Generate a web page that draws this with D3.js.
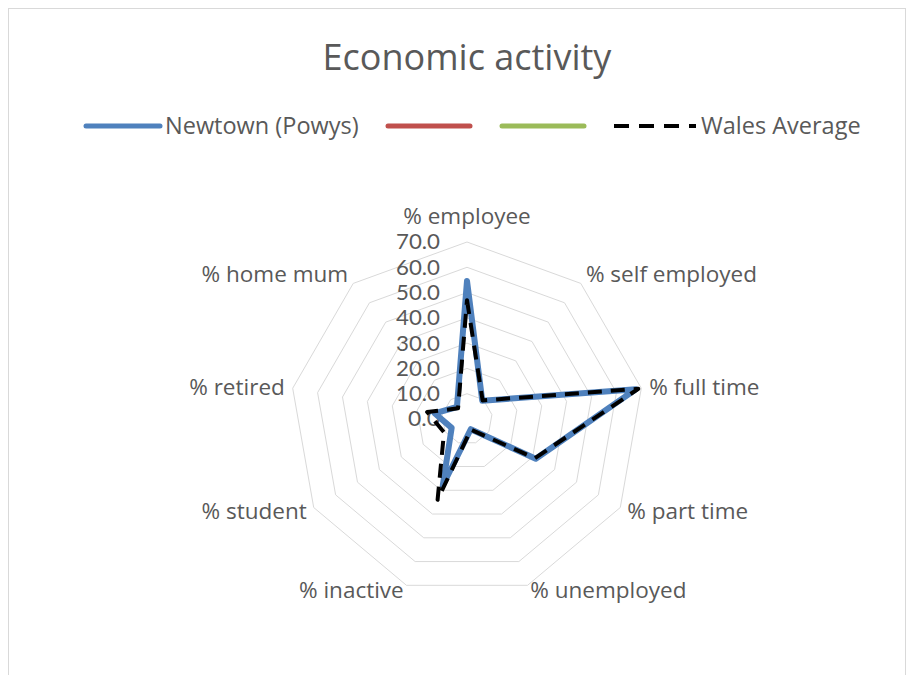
<!DOCTYPE html>
<html>
<head>
<meta charset="utf-8">
<script src="https://cdn.jsdelivr.net/npm/d3@7"></script>
<style>
  html, body { margin: 0; padding: 0; background: #ffffff; }
  svg { display: block; font-family: "Open Sans", Lato, sans-serif; }
</style>
</head>
<body>
<svg id="chart" width="914" height="675"></svg>
<script>
// ---- data ----
const categories = ["% employee", "% self employed", "% full time", "% part time",
  "% unemployed", "% inactive", "% student", "% retired", "% home mum"];
const newtown = [54.6, 9.4, 67.8, 31.4, 4.3, 28.0, 7.0, 13.0, 6.2];
const walesAverage = [47.0, 9.6, 68.8, 31.0, 4.5, 34.0, 10.5, 16.0, 5.5];
const tickValues = [0, 10, 20, 30, 40, 50, 60, 70];
const legendNames = ["Newtown (Powys)", "", "", "Wales Average"];
const legendColors = ["#4f81bd", "#c0504d", "#9bbb59", "#000000"];

// ---- layout ----
const svg = d3.select("#chart");
const cx = 467, cy = 419, R = 177;
const textColor = "#595959";

svg.append("rect").attr("x", 8.5).attr("y", 8.5).attr("width", 897).attr("height", 700)
  .attr("fill", "#fff").attr("stroke", "#d9d9d9").attr("stroke-width", 1);

svg.append("text").attr("x", cx).attr("y", 70).attr("text-anchor", "middle")
  .attr("font-size", 36).attr("fill", textColor).text("Economic activity");

const r = d3.scaleLinear().domain([0, 70]).range([0, R]);
const angle = d3.scalePoint().domain(d3.range(categories.length + 1)).range([0, 2 * Math.PI]);
const ang = i => angle(i);

const g = svg.append("g").attr("transform", `translate(${cx},${cy})`);

// grid polygons
const ringLine = d3.lineRadial().curve(d3.curveLinearClosed);
tickValues.filter(v => v > 0).forEach(v => {
  g.append("path")
    .attr("d", ringLine(categories.map((c, i) => [ang(i), r(v)])))
    .attr("fill", "none").attr("stroke", "#d9d9d9").attr("stroke-width", 1);
});

// tick labels
g.selectAll("text.tick").data(tickValues).join("text")
  .attr("class", "tick")
  .attr("x", -27).attr("y", d => -r(d)).attr("dy", "0.36em")
  .attr("text-anchor", "end").attr("font-size", 20.5).attr("fill", textColor)
  .style("font-family", "Lato, 'Open Sans', sans-serif")
  .attr("textLength", d => d >= 10 ? 44 : 32).attr("lengthAdjust", "spacingAndGlyphs")
  .text(d => d.toFixed(1));

// category labels
g.selectAll("text.cat").data(categories).join("text")
  .attr("class", "cat")
  .each(function (d, i) {
    const a = ang(i);
    const s = Math.sin(a), c = Math.cos(a);
    const rr = R + 8;
    let x = rr * s, y = -rr * c;
    let anchor = Math.abs(s) < 0.1 ? "middle" : (s > 0 ? "start" : "end");
    if (i === 0) y -= 18;
    if (Math.abs(s) > 0.1 && c > 0.5) y -= 3;
    if (c < -0.8) y -= 3;
    d3.select(this).attr("x", x).attr("y", y).attr("dy", "0.35em")
      .attr("text-anchor", anchor).attr("font-size", 22.5).attr("fill", textColor).text(d);
  });

// series
const seriesLine = d3.lineRadial().curve(d3.curveLinearClosed);
g.append("path")
  .attr("d", seriesLine(newtown.map((v, i) => [ang(i), r(v)])))
  .attr("fill", "none").attr("stroke", legendColors[0]).attr("stroke-width", 6)
  .attr("stroke-linejoin", "round").attr("stroke-linecap", "round");
g.append("path")
  .attr("d", seriesLine(walesAverage.map((v, i) => [ang(i), r(v)])))
  .attr("fill", "none").attr("stroke", legendColors[3]).attr("stroke-width", 4)
  .attr("stroke-dasharray", "14,9")
  .attr("stroke-linejoin", "round");

// legend
const legendY = 126;
const legendItems = [
  { x: 86, w: 74, name: legendNames[0], color: legendColors[0], dash: null },
  { x: 388, w: 82, name: legendNames[1], color: legendColors[1], dash: null },
  { x: 502, w: 82, name: legendNames[2], color: legendColors[2], dash: null },
  { x: 614, w: 82, name: legendNames[3], color: legendColors[3], dash: "15,10" }
];
const lg = svg.append("g");
legendItems.forEach(it => {
  lg.append("line").attr("x1", it.x).attr("x2", it.x + it.w)
    .attr("y1", legendY).attr("y2", legendY)
    .attr("stroke", it.color).attr("stroke-width", it.dash ? 4 : 5)
    .attr("stroke-linecap", it.dash ? "butt" : "round")
    .attr("stroke-dasharray", it.dash);
  if (it.name) {
    lg.append("text").attr("x", it.x + it.w + 5).attr("y", legendY).attr("dy", "0.35em")
      .attr("font-size", 23.5).attr("fill", textColor).text(it.name);
  }
});
</script>
</body>
</html>
